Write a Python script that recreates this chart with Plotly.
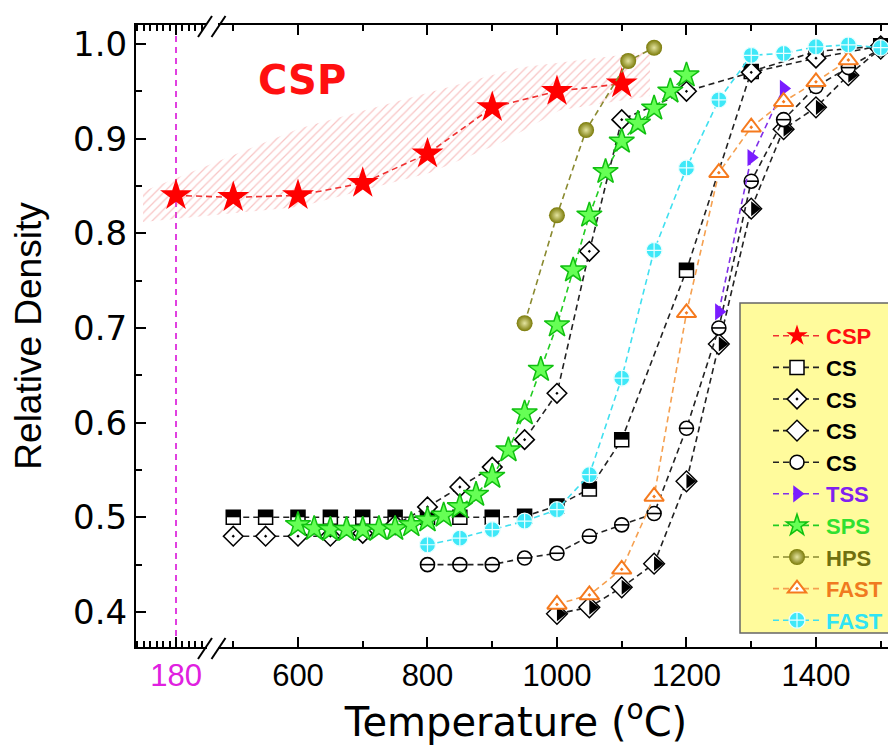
import plotly.graph_objects as go

# ---------------- data ----------------
CSP_T = [180, 500, 600, 700, 800, 900, 1000, 1100]
CSP_D = [0.840, 0.838, 0.840, 0.853, 0.884, 0.933, 0.950, 0.958]

CS_SQ_T = [500, 550, 600, 650, 700, 750, 800, 850, 900, 950, 1000, 1050, 1100, 1200, 1300, 1400, 1500]
CS_SQ_D = [0.500, 0.500, 0.500, 0.500, 0.500, 0.500, 0.500, 0.500, 0.500, 0.501, 0.512, 0.530, 0.582, 0.761, 0.971, 0.992, 0.998]

CS_DI_T = [500, 550, 600, 650, 700, 750, 800, 850, 900, 950, 1000, 1050, 1100, 1200, 1300, 1400, 1500]
CS_DI_D = [0.480, 0.480, 0.480, 0.480, 0.483, 0.492, 0.511, 0.532, 0.553, 0.582, 0.631, 0.781, 0.920, 0.950, 0.970, 0.985, 0.998]

CS_HD_T = [1000, 1050, 1100, 1150, 1200, 1250, 1300, 1350, 1400, 1450, 1500]
CS_HD_D = [0.398, 0.405, 0.426, 0.451, 0.538, 0.683, 0.826, 0.910, 0.933, 0.967, 0.995]

CS_HX_T = [800, 850, 900, 950, 1000, 1050, 1100, 1150, 1200, 1250, 1300, 1350, 1400, 1450, 1500]
CS_HX_D = [0.450, 0.450, 0.450, 0.457, 0.462, 0.480, 0.492, 0.504, 0.594, 0.700, 0.855, 0.920, 0.955, 0.975, 0.995]

TSS_T = [1250, 1300, 1350]
TSS_D = [0.717, 0.880, 0.953]

SPS_T = [600, 625, 650, 675, 700, 725, 750, 775, 800, 825, 850, 875, 900,
         925, 950, 975, 1000, 1025, 1050, 1075, 1100, 1125, 1150, 1175, 1200]
SPS_D = [0.492, 0.488, 0.487, 0.487, 0.487, 0.488, 0.488, 0.492, 0.497, 0.502, 0.511, 0.524, 0.543,
         0.571, 0.610, 0.656, 0.703, 0.761, 0.819, 0.865, 0.897, 0.916, 0.932, 0.950, 0.967]

HPS_T = [950, 1000, 1045, 1110, 1150]
HPS_D = [0.705, 0.819, 0.909, 0.982, 0.996]

FAST1_T = [1000, 1050, 1100, 1150, 1200, 1250, 1300, 1350, 1400, 1450]
FAST1_D = [0.408, 0.418, 0.445, 0.522, 0.716, 0.864, 0.912, 0.939, 0.960, 0.983]

FAST2_T = [800, 850, 900, 950, 1000, 1050, 1100, 1150, 1200, 1250, 1300, 1350, 1400, 1450, 1500]
FAST2_D = [0.471, 0.478, 0.487, 0.496, 0.508, 0.545, 0.647, 0.782, 0.869, 0.941, 0.988, 0.990, 0.997, 0.999, 0.996]

# hatched CSP band outline (temperature on the broken scale, density)
BAND_T = [360.6, 603.1, 803.9, 942.9, 1143.6, 1143.6, 1004.6, 912.0, 803.9, 603.1, 360.6]
BAND_D = [0.844, 0.911, 0.949, 0.975, 0.992, 0.945, 0.930, 0.895, 0.864, 0.828, 0.812]

X_MAJOR = [180, 600, 800, 1000, 1200, 1400]
X_MAJOR_TEXT = ['180', '600', '800', '1000', '1200', '1400']
X_MINOR = [120, 130, 140, 150, 160, 170, 190, 200, 210, 220, 500, 700, 900, 1100, 1300, 1500]

# ---------------- broken-axis helper ----------------
BREAK_OFFSET = 231.6   # left segment (120-225 C) is shifted onto the continuous axis


def brk(t):
    return t + BREAK_OFFSET if t < 300 else t


def bx(ts):
    return [brk(t) for t in ts]


FONT = "Liberation Sans, Arial, sans-serif"
WIDE = "DejaVu Sans, Verdana, sans-serif"
DASH = "6px,4px"

fig = go.Figure()

# hatched band
fig.add_trace(go.Scatter(
    x=BAND_T, y=BAND_D, mode="lines", fill="toself",
    line=dict(width=0, color="rgba(0,0,0,0)"),
    fillcolor="rgba(255,255,255,0)",
    fillpattern=dict(shape="/", fgcolor="rgba(238,110,110,0.8)", bgcolor="rgba(255,255,255,0)",
                     size=6, solidity=0.2, fillmode="overlay"),
    showlegend=False, hoverinfo="skip"))


def lbl(text, color):
    return '<b><span style="color:%s">%s</span></b>' % (color, text)


def series(name, T, D, lcolor, marker, grp, show=True, lines=True):
    fig.add_trace(go.Scatter(
        x=bx(T), y=D, name=name, legendgroup=grp, showlegend=show,
        mode="lines+markers" if lines else "markers",
        line=dict(color=lcolor, width=1.6, dash=DASH),
        marker=marker))


# CSP
series(lbl("CSP", "#ff1010"), CSP_T, CSP_D, "#f03030",
       dict(symbol="star", size=24, color="#ff0000", line=dict(width=0)), "g1")

# CS square (top half black)
series(lbl("CS", "#000000"), CS_SQ_T, CS_SQ_D, "#222222",
       dict(symbol="square", size=14, color="white", line=dict(color="black", width=1.5)), "g2")
series("cs_sq_top", CS_SQ_T, CS_SQ_D, "#222222",
       dict(symbol="line-ew", size=10, color="black", angle=180, standoff=3.5,
            line=dict(color="black", width=7)), "g2", show=False, lines=False)

# CS diamond with dot
series(lbl("CS", "#000000"), CS_DI_T, CS_DI_D, "#222222",
       dict(symbol="diamond-dot", size=15, color="white", line=dict(color="black", width=1.6)), "g3")

# CS half-filled diamond (right half black)
series(lbl("CS", "#000000"), CS_HD_T, CS_HD_D, "#222222",
       dict(symbol="diamond", size=16, color="white", line=dict(color="black", width=1.4)), "g4")
series("cs_hd_half", CS_HD_T, CS_HD_D, "#222222",
       dict(symbol="triangle-down", size=13, color="black", angle=-90, standoff=3.2,
            line=dict(width=0)), "g4", show=False, lines=False)

# CS circle with bar
series(lbl("CS", "#000000"), CS_HX_T, CS_HX_D, "#222222",
       dict(symbol="circle", size=14, color="white", line=dict(color="black", width=1.6)), "g5")
series("cs_hx_bar", CS_HX_T, CS_HX_D, "#222222",
       dict(symbol="line-ew", size=10, color="black", line=dict(color="black", width=1.6)),
       "g5", show=False, lines=False)

# TSS
series(lbl("TSS", "#8020f0"), TSS_T, TSS_D, "#8030e8",
       dict(symbol="triangle-right", size=15, color="#7a1cff", line=dict(width=0)), "g6")

# SPS
series(lbl("SPS", "#30e030"), SPS_T, SPS_D, "#22cc22",
       dict(symbol="star", size=19, color="#66ff55", line=dict(color="#10c010", width=1.5)), "g7")

# HPS
series(lbl("HPS", "#707010"), HPS_T, HPS_D, "#8a8a30",
       dict(symbol="circle", size=16, color="#7a7a08",
            gradient=dict(type="radial", color="#e4e4a0"), line=dict(width=0)), "g8")

# FAST orange
series(lbl("FAST", "#f07a20"), FAST1_T, FAST1_D, "#f5a050",
       dict(symbol="triangle-up-dot", size=17, color="white", line=dict(color="#f57a1e", width=2)), "g9")

# FAST cyan
series(lbl("FAST", "#30e4f4"), FAST2_T, FAST2_D, "#40e0f0",
       dict(symbol="circle-cross", size=16, color="#3ee8f8", line=dict(color="#e8ffff", width=1.2)), "g10")

# ---------------- layout ----------------
# plot area in page pixels (the page body adds an 8px offset to the figure)
PAGE_OFF = 8
PL, PR, PT, PB = 136, 896, 25, 647
W, H = 896, 751


def xp(px):
    return (px - PL) / (PR - PL)


def yp(py):
    return (PB - py) / (PB - PT)


def yp_off(px):
    return px / (PB - PT)


shapes = [
    dict(type="line", xref="x", yref="paper", x0=brk(CSP_T[0]), x1=brk(CSP_T[0]), y0=0, y1=1,
         line=dict(color="#e040e0", width=2, dash="6px,5px"), layer="below"),
    # legend box
    dict(type="rect", xref="paper", yref="paper", x0=xp(740), x1=xp(893), y0=yp(633), y1=yp(303),
         fillcolor="#fffb9c", line=dict(color="#666666", width=1.5), layer="above"),
]
for ybase in (0, 1):
    shapes.append(dict(type="rect", xref="paper", yref="paper",
                       x0=xp(207), x1=xp(218), y0=ybase - yp_off(5), y1=ybase + yp_off(5),
                       fillcolor="white", line=dict(width=0), layer="above"))
    for cx in (205, 218.5):
        shapes.append(dict(type="line", xref="paper", yref="paper",
                           x0=xp(cx - 7), y0=ybase - yp_off(12), x1=xp(cx + 7), y1=ybase + yp_off(9),
                           line=dict(color="black", width=2), layer="above"))

fig.update_layout(
    width=W, height=H,
    margin=dict(l=PL - PAGE_OFF, r=W - (PR - PAGE_OFF), t=PT - PAGE_OFF, b=H - (PB - PAGE_OFF), pad=0),
    paper_bgcolor="white", plot_bgcolor="white",
    font=dict(family=FONT, color="black"),
    xaxis=dict(
        range=[349.8, 1523.6], tickmode="array", tickvals=bx(X_MAJOR), automargin=False,
        ticktext=[('<span style="color:#e020e0">%s</span>' % t) if t == '180' else t for t in X_MAJOR_TEXT],
        ticks="inside", ticklen=10, tickwidth=1.5, tickcolor="black",
        minor=dict(tickmode="array", tickvals=bx(X_MINOR), ticks="inside", ticklen=6,
                   tickwidth=1.5, tickcolor="black", showgrid=False),
        showline=True, linewidth=2, linecolor="black", mirror="ticks",
        showgrid=False, zeroline=False,
        tickfont=dict(size=31, family=FONT, color="black"),
        title=dict(text="Temperature (<sup>o</sup>C)", font=dict(size=40, family=WIDE), standoff=4),
    ),
    yaxis=dict(
        range=[0.363, 1.020], tick0=0.4, dtick=0.1, tickformat=".1f", automargin=False,
        ticks="inside", ticklen=10, tickwidth=1.5, tickcolor="black",
        minor=dict(dtick=0.05, ticks="inside", ticklen=6, tickwidth=1.5, tickcolor="black",
                   showgrid=False),
        showline=True, linewidth=2, linecolor="black", mirror=False,
        showgrid=False, zeroline=False,
        tickfont=dict(size=34, family=WIDE, color="black"),
        title=dict(text="Relative Density", font=dict(size=37, family=FONT), standoff=22),
    ),
    legend=dict(
        x=xp(768), y=yp(315), xanchor="left", yanchor="top",
        bgcolor="rgba(0,0,0,0)", borderwidth=0,
        font=dict(size=22, family=FONT), tracegroupgap=0, itemwidth=48,
    ),
    shapes=shapes,
    annotations=[dict(x=606, y=0.962, xref="x", yref="y", text="<b>CSP</b>", showarrow=False,
                      font=dict(size=40, color="#ff1010", family=WIDE))],
)

fig.write_html("out.html")
